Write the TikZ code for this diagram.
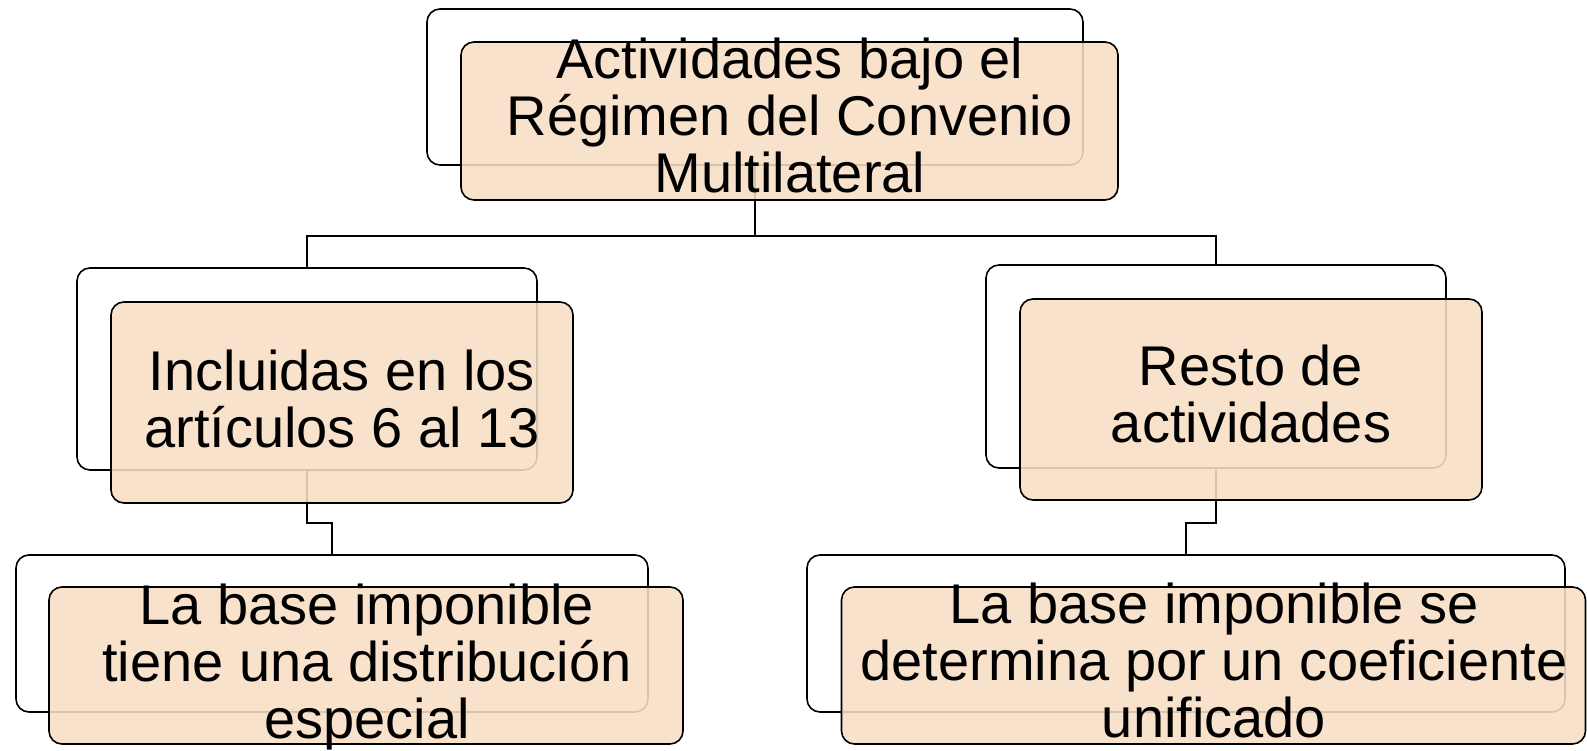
\documentclass[tikz,border=0pt]{standalone}
\usepackage{fontspec}
\setmainfont{Liberation Sans}
\definecolor{peach}{HTML}{F8DFC4}
\tikzset{
  backbox/.style={draw=black, line width=1.6pt, fill=white, rounded corners=13pt, inner sep=0pt, outer sep=0pt},
  frontbox/.style={draw=black, line width=1.6pt, fill=peach, fill opacity=0.88, rounded corners=13pt, inner sep=0pt, outer sep=0pt},
  txt/.style={inner sep=0pt, align=center, font=\fontsize{56}{57}\selectfont, text=black},
  conn/.style={draw=black, line width=1.6pt}
}
\begin{document}
\begin{tikzpicture}[x=1pt,y=-1pt]
\fill[white] (0,0) rectangle (1587,751);
\useasboundingbox (0,0) rectangle (1587,751);
% back boxes
\node[backbox, minimum width=656pt, minimum height=156pt] (b0) at (755,87) {};
\node[backbox, minimum width=460pt, minimum height=202pt] (b1) at (307,369) {};
\node[backbox, minimum width=460pt, minimum height=203pt] (b2) at (1216,366.5) {};
\node[backbox, minimum width=632pt, minimum height=157pt] (b3) at (332,633.5) {};
\node[backbox, minimum width=758pt, minimum height=157pt] (b4) at (1186,633.5) {};
% junctions
\coordinate (j0) at (755,236);
\coordinate (j1) at (307,523);
\coordinate (j2) at (1216,523);
% connectors
\draw[conn] (b0.south) -- (b0.south |- j0) -| (b1.north);
\draw[conn] (b0.south |- j0) -| (b2.north);
\draw[conn] (b1.south) -- (j1) -| (b3.north);
\draw[conn] (b2.south) -- (j2) -| (b4.north);
% front boxes
\node[frontbox, minimum width=657pt, minimum height=158pt] (f0) at (789.5,121) {};
\node[frontbox, minimum width=462pt, minimum height=201pt] (f1) at (342,402.5) {};
\node[frontbox, minimum width=462pt, minimum height=201pt] (f2) at (1251,399.5) {};
\node[frontbox, minimum width=634pt, minimum height=157pt] (f3) at (366,665.5) {};
\node[frontbox, minimum width=744pt, minimum height=157pt] (f4) at (1213.5,665.5) {};
% texts
\node[txt] (t0) at (790,115.5) {Actividades bajo el\\Régimen del Convenio\\Multilateral};
\node[txt] (t1) at (342,399) {Incluidas en los\\artículos 6 al 13};
\node[txt] (t2) at (1251,394) {Resto de\\actividades};
\node[txt] (t3) at (367,667) {La base imponible\\tiene una distribución\\especial};
\node[txt] (t4) at (1214,660) {La base imponible se\\determina por un coeficiente\\unificado};
\end{tikzpicture}
\end{document}
